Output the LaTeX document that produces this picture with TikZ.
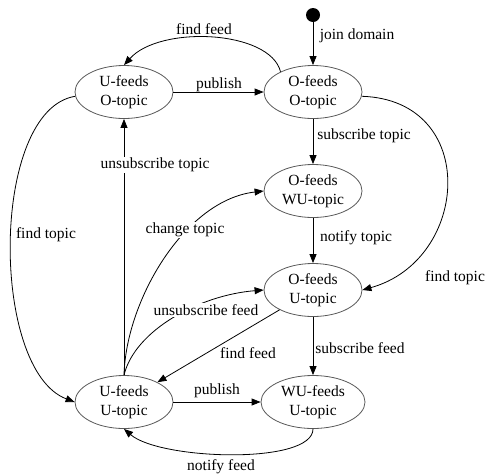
\documentclass[tikz,border=0pt]{standalone}
\usepackage{fontspec}
\setmainfont{Liberation Serif}
\usetikzlibrary{shapes.geometric,arrows.meta}

\begin{document}
\begin{tikzpicture}[x=1pt, y=-1pt, line join=round, >={Triangle[length=9pt,width=7pt]},
	every node/.style={font=\fontsize{15.5}{19}\selectfont},
	state/.style={ellipse, draw=black!65, line width=0.8pt, minimum width=98pt, minimum height=53pt, inner sep=0pt, align=center},
	edge/.style={->, line width=0.8pt},
	lbl/.style={inner sep=1pt},
	cut/.style={lbl, fill=white}]
	\def\xl{124} \def\xr{313} % columns
	\useasboundingbox (0,0) rectangle (489,475);
	% states
	\node[circle, fill, inner sep=0pt, minimum size=14pt] (start) at (\xr,15) {};
	\node[state] (UO) at (\xl,92) {U-feeds\\O-topic};
	\node[state] (OO) at (\xr,92) {O-feeds\\O-topic};
	\node[state] (OWU) at (\xr,191) {O-feeds\\WU-topic};
	\node[state] (OU) at (\xr,290) {O-feeds\\U-topic};
	\node[state] (UU) at (\xl,402) {U-feeds\\U-topic};
	\node[state, minimum width=104pt] (WUU) at (\xr,402) {WU-feeds\\U-topic};
	% transitions
	\draw[edge] (start) -- (OO);
	\draw[edge] (UO) -- (OO);
	\draw[edge] (OO.148) .. controls (270,30) and (160,25) .. (UO.north);
	\draw[edge] (OO) -- (OWU);
	\draw[edge] (OO.355) .. controls (480,100) and (470,260) .. (OU.east);
	\draw[edge] (UO.185) .. controls (-10,110) and (-10,370) .. (UU.west);
	\draw[edge] (OWU) -- (OU);
	\draw[edge] (OU) -- (WUU);
	\draw[edge] (OU) -- (UU);
	\draw[edge] (UU) -- (UO);
	\draw[edge] (UU.north) .. controls (126,300) and (185,200) .. (OWU.west);
	\draw[edge] (UU.north) .. controls (135,330) and (200,295) .. (OU.west);
	\draw[edge] (UU) -- (WUU);
	\draw[edge] (WUU.south) .. controls (\xr,465) and (160,460) .. (UU.south);
	% labels
	\node[lbl] (findfeedA) at (204,29) {find feed};
	\node[lbl] (join) at (357,36) {join domain};
	\node[lbl] (pubA) at (219,85) {publish};
	\node[lbl] (subtopic) at (364,136) {subscribe topic};
	\node[cut] (unsubtopic) at (155,165) {unsubscribe topic};
	\node[cut] (change) at (185,230) {change topic};
	\node[lbl] (findtopicA) at (46,235) {find topic};
	\node[lbl] (notifytopic) at (356,238) {notify topic};
	\node[lbl] (findtopicB) at (455,278) {find topic};
	\node[cut] (unsubfeed) at (206,310) {unsubscribe feed};
	\node[lbl] (findfeedB) at (248,353) {find feed};
	\node[lbl] (subfeed) at (360,348) {subscribe feed};
	\node[lbl] (pubB) at (217,391) {publish};
	\node[lbl] (notifyfeed) at (221,467) {notify feed};
\end{tikzpicture}
\end{document}
